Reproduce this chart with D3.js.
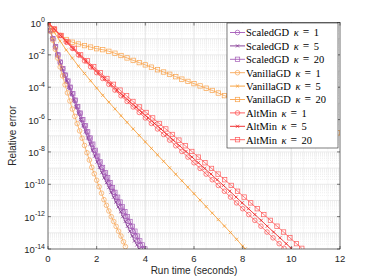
<!DOCTYPE html>
<html>
<head>
<meta charset="utf-8">
<script src="https://cdn.jsdelivr.net/npm/d3@7"></script>
<style>
  html, body { margin: 0; padding: 0; background: #fff; }
  svg { display: block; }
</style>
</head>
<body>
<div id="chart"></div>
<script>
// run time (seconds) and relative error
const sgdT1 = [0,0.1,0.2,0.3,0.4,0.5,0.6,0.7,0.8,0.9,1.0,1.1,1.2,1.3,1.4,1.5,1.6,1.7,1.8,1.9,2.0,2.1,2.2,2.3,2.4,2.5,2.6,2.7,2.8,2.9,3.0,3.1,3.2,3.3,3.4,3.5,3.6,3.7,3.8,3.9];
const sgdT5 = [0,0.1,0.19,0.29,0.38,0.48,0.58,0.67,0.77,0.86,0.96,1.06,1.15,1.25,1.34,1.44,1.54,1.63,1.73,1.82,1.92,2.02,2.11,2.21,2.3,2.4,2.5,2.59,2.69,2.78,2.88,2.98,3.07,3.17,3.26,3.36,3.46,3.55,3.65,3.74];
const sgdT20 = [0,0.1,0.2,0.31,0.41,0.51,0.61,0.71,0.82,0.92,1.02,1.12,1.22,1.33,1.43,1.53,1.63,1.73,1.84,1.94,2.04,2.14,2.24,2.35,2.45,2.55,2.65,2.75,2.86,2.96,3.06,3.16,3.26,3.37,3.47,3.57,3.67,3.77,3.88,3.98];
const sgdErr = [1,3.16e-1,1e-1,3.16e-2,1e-2,3.55e-3,1.41e-3,5.62e-4,2.40e-4,1e-4,3.98e-5,1.58e-5,6.31e-6,2.51e-6,1e-6,4.17e-7,1.74e-7,7.24e-8,3.02e-8,1.26e-8,5.50e-9,2.40e-9,1.10e-9,5.25e-10,2.51e-10,1.26e-10,6.31e-11,3.16e-11,1.58e-11,7.94e-12,3.98e-12,2.0e-12,1e-12,5.01e-13,2.51e-13,1.26e-13,6.31e-14,3.16e-14,1.78e-14,1e-14];

const vgdT1 = [0,0.1,0.2,0.3,0.4,0.5,0.6,0.7,0.8,0.9,1.0,1.1,1.2,1.3,1.4,1.5,1.6,1.7,1.8,1.9,2.0,2.1,2.2,2.3,2.4,2.5,2.6,2.7,2.8,2.9,3.0,3.1,3.18];
const vgdErr1 = [1,2.82e-1,7.94e-2,2.24e-2,6.31e-3,1.78e-3,5.01e-4,1.41e-4,4.47e-5,1.41e-5,4.47e-6,1.58e-6,5.62e-7,2.0e-7,7.08e-8,2.51e-8,8.91e-9,3.16e-9,1.12e-9,4.47e-10,1.78e-10,7.08e-11,2.82e-11,1.12e-11,5.01e-12,2.24e-12,1e-12,5.01e-13,2.51e-13,1.26e-13,6.31e-14,2.82e-14,1.41e-14];

const vgdT5 = [0,0.25,0.5,0.75,1.0,1.25,1.5,1.75,2.0,2.25,2.5,2.75,3.0,3.25,3.5,3.75,4.0,4.25,4.5,4.75,5.0,5.25,5.5,5.75,6.0,6.25,6.5,6.75,7.0,7.25,7.5,7.75,8.0,8.1];
const vgdErr5 = [1,2.51e-1,7.08e-2,2.0e-2,6.31e-3,2.0e-3,7.08e-4,2.51e-4,8.91e-5,3.16e-5,1.20e-5,4.57e-6,1.74e-6,6.76e-7,2.63e-7,1.05e-7,4.17e-8,1.66e-8,6.61e-9,2.63e-9,1.05e-9,4.17e-10,1.66e-10,6.61e-11,2.63e-11,1.05e-11,4.17e-12,1.66e-12,6.61e-13,2.63e-13,1.05e-13,3.98e-14,1.51e-14,1e-14];

const vgdT20 = [0,0.25,0.5,0.75,1.0,1.25,1.5,1.75,2.0,2.25,2.5,2.75,3.0,3.25,3.5,3.75,4.0,4.25,4.5,4.75,5.0,5.25,5.5,5.75,6.0,6.25,6.5,6.75,7.0,7.25,7.5,7.75,8.0,8.25,8.5,8.75,9.0,9.25,9.5,9.75,10.0,10.25,10.5,10.75,11.0,11.25,11.5,11.75,11.9];
const vgdErr20 = [1,3.55e-1,1.58e-1,8.91e-2,6.03e-2,4.68e-2,3.72e-2,3.02e-2,2.40e-2,2.09e-2,1.66e-2,1.26e-2,9.12e-3,6.46e-3,4.57e-3,3.31e-3,2.40e-3,1.74e-3,1.20e-3,8.71e-4,6.31e-4,4.47e-4,3.16e-4,2.29e-4,1.66e-4,1.20e-4,8.71e-5,6.31e-5,4.37e-5,3.02e-5,2.19e-5,1.58e-5,1.17e-5,8.71e-6,6.61e-6,5.01e-6,3.80e-6,2.88e-6,2.19e-6,1.66e-6,1.26e-6,9.55e-7,7.24e-7,5.50e-7,4.17e-7,3.16e-7,2.40e-7,1.82e-7,1.51e-7];

const altT1 = [0,0.25,0.5,0.75,1.0,1.25,1.5,1.75,2.0,2.25,2.5,2.75,3.0,3.25,3.5,3.75,4.0,4.25,4.5,4.75,5.0,5.25,5.5,5.75,6.0,6.25,6.5,6.75,7.0,7.25,7.5,7.75,8.0,8.25,8.5,8.75,9.0,9.25,9.5,9.7];
const altT5 = [0,0.26,0.52,0.77,1.03,1.29,1.55,1.8,2.06,2.32,2.58,2.83,3.09,3.35,3.61,3.86,4.12,4.38,4.64,4.89,5.15,5.41,5.67,5.92,6.18,6.44,6.7,6.95,7.21,7.47,7.73,7.98,8.24,8.5,8.76,9.01,9.27,9.53,9.79,9.99];
const altT20 = [0,0.27,0.54,0.81,1.08,1.34,1.61,1.88,2.15,2.42,2.69,2.96,3.23,3.49,3.76,4.03,4.3,4.57,4.84,5.11,5.38,5.64,5.91,6.18,6.45,6.72,6.99,7.26,7.53,7.79,8.06,8.33,8.6,8.87,9.14,9.41,9.68,9.94,10.21,10.43];
const altErr = [1,3.98e-1,1.58e-1,6.31e-2,2.51e-2,1e-2,4.27e-3,1.82e-3,7.94e-4,3.47e-4,1.51e-4,6.61e-5,2.95e-5,1.32e-5,6.03e-6,2.75e-6,1.26e-6,5.75e-7,2.63e-7,1.20e-7,5.37e-8,2.40e-8,1.07e-8,4.79e-9,2.14e-9,9.55e-10,4.27e-10,1.91e-10,8.51e-11,3.72e-11,1.62e-11,7.08e-12,3.09e-12,1.35e-12,5.89e-13,2.57e-13,1.12e-13,4.90e-14,2.14e-14,1.10e-14];

const xTicks = [0, 2, 4, 6, 8, 10, 12];
const yTickExps = [0, -2, -4, -6, -8, -10, -12, -14];

const series = [
  { name: 'ScaledGD', kappa: 1, t: sgdT1, e: sgdErr, color: '#a457b8', marker: 'o' },
  { name: 'ScaledGD', kappa: 5, t: sgdT5, e: sgdErr, color: '#7e2f8e', marker: 'x' },
  { name: 'ScaledGD', kappa: 20, t: sgdT20, e: sgdErr, color: '#a45cb6', marker: 's' },
  { name: 'VanillaGD', kappa: 1, t: vgdT1, e: vgdErr1, color: '#f8a656', marker: 'o' },
  { name: 'VanillaGD', kappa: 5, t: vgdT5, e: vgdErr5, color: '#f79a2e', marker: 'x' },
  { name: 'VanillaGD', kappa: 20, t: vgdT20, e: vgdErr20, color: '#f9a34c', marker: 's' },
  { name: 'AltMin', kappa: 1, t: altT1, e: altErr, color: '#ff4d4d', marker: 'o' },
  { name: 'AltMin', kappa: 5, t: altT5, e: altErr, color: '#ee1c1c', marker: 'x' },
  { name: 'AltMin', kappa: 20, t: altT20, e: altErr, color: '#ff5959', marker: 's' }
];

const W = 374, H = 280;
const margin = { top: 22.5, right: 34, bottom: 31, left: 48 };
const width = W - margin.left - margin.right;
const height = H - margin.top - margin.bottom;
const axisColor = '#262626';
const font = '"Liberation Sans", Arial, sans-serif';
const serif = '"Liberation Serif", "Times New Roman", serif';

const svg = d3.select('#chart').append('svg')
  .attr('width', W)
  .attr('height', H);

const g = svg.append('g')
  .attr('transform', `translate(${margin.left},${margin.top})`);

const x = d3.scaleLinear().domain([0, 12]).range([0, width]);
const y = d3.scaleLog().domain([1e-14, 1]).range([height, 0]);

// minor grid
const minorY = [];
for (let p = -14; p < 0; p++) {
  for (let k = 2; k <= 9; k++) minorY.push(k * Math.pow(10, p));
}
g.append('g').selectAll('line.my').data(minorY).enter().append('line')
  .attr('x1', 0).attr('x2', width)
  .attr('y1', d => y(d)).attr('y2', d => y(d))
  .attr('stroke', '#e6e6e6').attr('stroke-width', 0.6)
  .attr('stroke-dasharray', '1,1');
g.append('g').selectAll('line.mx').data(d3.range(0.5, 12, 0.5)).enter().append('line')
  .attr('x1', d => x(d)).attr('x2', d => x(d))
  .attr('y1', 0).attr('y2', height)
  .attr('stroke', '#e6e6e6').attr('stroke-width', 0.6)
  .attr('stroke-dasharray', '1,1');

// major grid
g.append('g').selectAll('line').data(d3.range(-14, 1)).enter().append('line')
  .attr('x1', 0).attr('x2', width)
  .attr('y1', d => y(Math.pow(10, d))).attr('y2', d => y(Math.pow(10, d)))
  .attr('stroke', '#dedede').attr('stroke-width', 0.6);
g.append('g').selectAll('line').data(xTicks).enter().append('line')
  .attr('x1', d => x(d)).attr('x2', d => x(d))
  .attr('y1', 0).attr('y2', height)
  .attr('stroke', '#dedede').attr('stroke-width', 0.6);

// series
g.append('clipPath').attr('id', 'clip')
  .append('rect').attr('width', width).attr('height', height);
const plot = g.append('g').attr('clip-path', 'url(#clip)');

const line = d3.line().x(d => x(d[0])).y(d => y(d[1]));

function drawMarker(sel, type, color) {
  if (type === 'o') {
    sel.append('circle').attr('r', 2.3)
      .attr('fill', 'none').attr('stroke', color).attr('stroke-width', 0.7);
  } else if (type === 's') {
    sel.append('rect').attr('x', -2.2).attr('y', -2.2).attr('width', 4.4).attr('height', 4.4)
      .attr('fill', 'none').attr('stroke', color).attr('stroke-width', 0.7);
  } else {
    sel.append('path').attr('d', 'M-1.6,-1.6L1.6,1.6M-1.6,1.6L1.6,-1.6')
      .attr('stroke', color).attr('stroke-width', 0.7);
  }
}

series.forEach(s => {
  const pts = s.t.map((t, i) => [t, s.e[i]]);
  plot.append('path').datum(pts)
    .attr('fill', 'none')
    .attr('stroke', s.color)
    .attr('stroke-width', 0.8)
    .attr('d', line);
  const m = plot.append('g').selectAll('g').data(pts).enter().append('g')
    .attr('transform', d => `translate(${x(d[0])},${y(d[1])})`);
  drawMarker(m, s.marker, s.color);
});

// axes box with inward ticks
g.append('rect').attr('width', width).attr('height', height)
  .attr('fill', 'none').attr('stroke', axisColor).attr('stroke-width', 0.6);

const tickLen = 3;
xTicks.forEach(t => {
  g.append('line').attr('x1', x(t)).attr('x2', x(t)).attr('y1', height).attr('y2', height - tickLen)
    .attr('stroke', axisColor).attr('stroke-width', 0.6);
  g.append('line').attr('x1', x(t)).attr('x2', x(t)).attr('y1', 0).attr('y2', tickLen)
    .attr('stroke', axisColor).attr('stroke-width', 0.6);
  g.append('text').attr('x', x(t)).attr('y', height + 13)
    .attr('text-anchor', 'middle')
    .style('font-family', font).style('font-size', '9.5px').style('fill', axisColor)
    .text(t);
});

yTickExps.forEach(p => {
  const yy = y(Math.pow(10, p));
  g.append('line').attr('x1', 0).attr('x2', tickLen).attr('y1', yy).attr('y2', yy)
    .attr('stroke', axisColor).attr('stroke-width', 0.6);
  g.append('line').attr('x1', width).attr('x2', width - tickLen).attr('y1', yy).attr('y2', yy)
    .attr('stroke', axisColor).attr('stroke-width', 0.6);
  const label = g.append('text').attr('x', -3).attr('y', yy + 4)
    .attr('text-anchor', 'end')
    .style('font-family', font).style('font-size', '9.5px').style('fill', axisColor);
  label.append('tspan').text('10');
  label.append('tspan').attr('dy', -4.5).style('font-size', '7px').text(p === 0 ? '0' : '-' + Math.abs(p));
});

svg.append('text')
  .attr('x', margin.left + width / 2).attr('y', H - 6)
  .attr('text-anchor', 'middle')
  .style('font-family', font).style('font-size', '10px').style('fill', axisColor)
  .text('Run time (seconds)');

svg.append('text')
  .attr('transform', `translate(16,${margin.top + height / 2}) rotate(-90)`)
  .attr('text-anchor', 'middle')
  .style('font-family', font).style('font-size', '10px').style('fill', axisColor)
  .text('Relative error');

// legend: each piece placed after measuring the one before it
const lgX = 227, lgY = 23, lgW = 111, lgH = 125, rowH = 13.4;
const legend = svg.append('g');
legend.append('rect').attr('x', lgX).attr('y', lgY).attr('width', lgW).attr('height', lgH)
  .attr('fill', '#fff').attr('stroke', axisColor).attr('stroke-width', 0.6);

function piece(xp, yp, str, italic, size) {
  const t = legend.append('text').attr('x', xp).attr('y', yp)
    .style('font-family', serif).style('font-size', (size || 10.5) + 'px').style('fill', '#000')
    .style('font-style', italic ? 'italic' : 'normal')
    .text(str);
  return xp + t.node().getComputedTextLength();
}

series.forEach((s, i) => {
  const cy = lgY + 9.5 + i * rowH;
  legend.append('line').attr('x1', lgX + 3).attr('x2', lgX + 18).attr('y1', cy).attr('y2', cy)
    .attr('stroke', s.color).attr('stroke-width', 0.9);
  const m = legend.append('g').attr('transform', `translate(${lgX + 10.5},${cy})`);
  drawMarker(m, s.marker, s.color);
  let xp = piece(lgX + 19, cy + 3.8, s.name, false);
  xp = piece(xp + 4.5, cy + 3.8, 'κ', true);
  xp = piece(xp + 4, cy + 3.8, '=', false, 11.5);
  piece(xp + 4.5, cy + 3.8, String(s.kappa), false);
});
</script>
</body>
</html>
